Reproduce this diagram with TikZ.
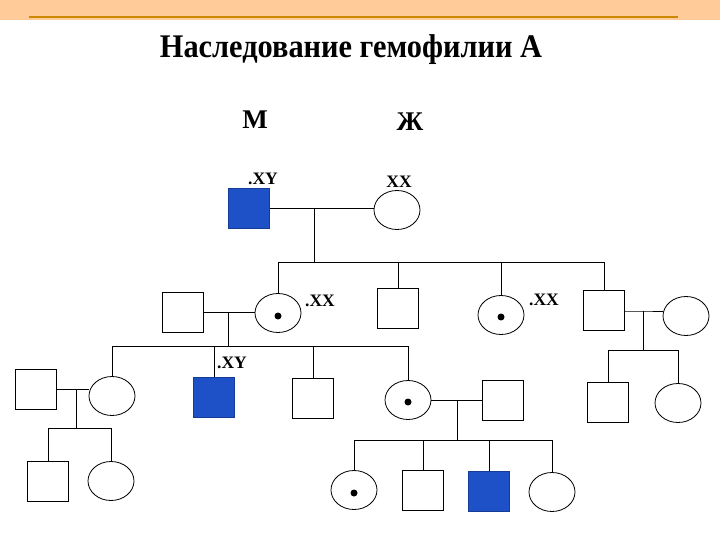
\documentclass[tikz,border=0pt]{standalone}
\usepackage{fontspec}
\setmainfont{Liberation Serif}
\usetikzlibrary{shapes.geometric}
\definecolor{bandpeach}{RGB}{255,204,153}
\definecolor{bandline}{RGB}{204,136,0}
\definecolor{hemblue}{RGB}{30,80,200}

\begin{document}
\begin{tikzpicture}[x=1pt, y=1pt,
  male/.style={draw, line width=0.8pt, minimum width=41pt, minimum height=40pt, inner sep=0pt},
  female/.style={draw, ellipse, line width=0.8pt, minimum width=46pt, minimum height=39pt, inner sep=0pt},
  sick/.style={fill=hemblue, draw=hemblue!75!black},
  geno/.style={font=\fontsize{17.5}{17.5}\selectfont\bfseries, inner sep=0pt},
  link/.style={line width=0.7pt}]
\useasboundingbox (0,0) rectangle (720,-540);
\fill[bandpeach] (0,0) rectangle (720,-20);
\draw[bandline, line width=2pt] (29,-17) -- (678,-17);
\node[xscale=0.92] (title) at (351,-50) {\fontsize{33}{33}\selectfont\bfseries Наследование гемофилии А};
\node (sexm) at (255,-120) {\fontsize{27}{27}\selectfont\bfseries М};
\node (sexf) at (410,-122) {\fontsize{27}{27}\selectfont\bfseries Ж};
% generation I
\node[male, sick] (I1) at (249,-208) {};
\node[female] (I2) at (397,-210) {};
\node[geno] (gI1) at (263,-179) {.XY};
\node[geno] (gI2) at (399,-182) {XX};
% generation II
\node[male] (II1) at (183,-312) {};
\node[female] (II2) at (278,-313) {};
\node[male] (II3) at (398,-308) {};
\node[female] (II4) at (501,-315) {};
\node[male] (II5) at (604,-310) {};
\node[female] (II6) at (686,-316) {};
\node[geno] (gII2) at (320,-301) {.XX};
\node[geno] (gII4) at (544,-300) {.XX};
% generation III
\node[male] (III1) at (36,-389) {};
\node[female] (III2) at (112,-396) {};
\node[male, sick] (III3) at (214,-397) {};
\node[male] (III4) at (313,-398) {};
\node[female] (III5) at (408,-400) {};
\node[male] (III6) at (503,-400) {};
\node[male] (III7) at (608,-402) {};
\node[female] (III8) at (678,-403) {};
\node[geno] (gIII3) at (232,-363) {.XY};
% generation IV
\node[male] (IV1) at (48,-481) {};
\node[female] (IV2) at (111,-481) {};
\node[female] (IV3) at (354,-490) {};
\node[male] (IV4) at (423,-490) {};
\node[male, sick] (IV5) at (489,-491) {};
\node[female] (IV6) at (552,-492) {};
% carriers
\fill (II2.center) ++(0,-3) circle (3.5);
\fill (II4.center) ++(0,-2) circle (3.5);
\fill (III5.center) ++(0,-2) circle (3.5);
\fill (IV3.center) ++(0,-3) circle (3.5);
% family I1 x I2
\coordinate (m1) at (314,-208);
\coordinate (s1) at (314,-262);
\draw[link] (I1.east) -- (I1.east -| I2.west);
\draw[link] (m1) -- (s1);
\draw[link] (II2.north |- s1) -- (II5.north |- s1);
\draw[link] (II2.north |- s1) -- (II2.north);
\draw[link] (II3.north |- s1) -- (II3.north);
\draw[link] (II4.north |- s1) -- (II4.north);
\draw[link] (II5.north |- s1) -- (II5.north);
% family II1 x II2
\coordinate (m2) at (228,-312);
\coordinate (s2) at (228,-346);
\draw[link] (II1.east) -- (II1.east -| II2.west);
\draw[link] (m2) -- (s2);
\draw[link] (III2.north |- s2) -- (III5.north |- s2);
\draw[link] (III2.north |- s2) -- (III2.north);
\draw[link] (III3.north |- s2) -- (III3.north);
\draw[link] (III4.north |- s2) -- (III4.north);
\draw[link] (III5.north |- s2) -- (III5.north);
% family II5 x II6
\coordinate (m3) at (643,-311);
\coordinate (s3) at (643,-350);
\draw[link] (II5.east |- m3) -- (m3) -- (m3 -| II6.west);
\draw[link] (m3) -- (s3);
\draw[link] (III7.north |- s3) -- (III8.north |- s3);
\draw[link] (III7.north |- s3) -- (III7.north);
\draw[link] (III8.north |- s3) -- (III8.north);
% family III1 x III2
\coordinate (m4) at (76,-389);
\coordinate (s4) at (76,-428);
\draw[link] (III1.east) -- (III1.east -| III2.west);
\draw[link] (m4) -- (s4);
\draw[link] (IV1.north |- s4) -- (IV2.north |- s4);
\draw[link] (IV1.north |- s4) -- (IV1.north);
\draw[link] (IV2.north |- s4) -- (IV2.north);
% family III5 x III6
\coordinate (m5) at (457,-400);
\coordinate (s5) at (457,-440);
\draw[link] (III5.east) -- (III5.east -| III6.west);
\draw[link] (m5) -- (s5);
\draw[link] (IV3.north |- s5) -- (IV6.north |- s5);
\draw[link] (IV3.north |- s5) -- (IV3.north);
\draw[link] (IV4.north |- s5) -- (IV4.north);
\draw[link] (IV5.north |- s5) -- (IV5.north);
\draw[link] (IV6.north |- s5) -- (IV6.north);
\end{tikzpicture}
\end{document}
